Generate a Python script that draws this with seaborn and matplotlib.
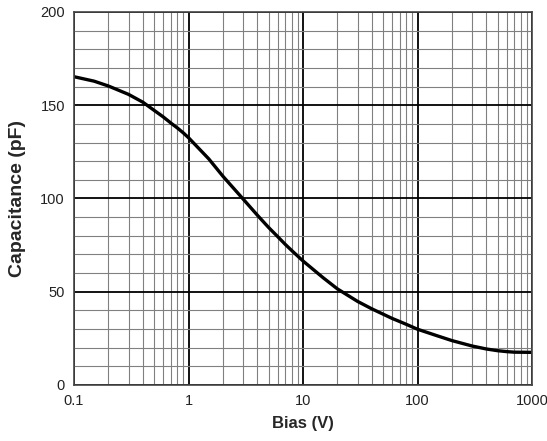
import numpy as np
import pandas as pd
import seaborn as sns
import matplotlib.pyplot as plt
from matplotlib.ticker import FixedLocator, LogLocator, NullFormatter

# valeurs
bias = [0.1, 0.15, 0.2, 0.3, 0.4, 0.5, 0.6, 0.7, 0.8, 0.9, 1, 1.5, 2, 3, 4, 5, 6, 7, 8, 9, 10,
        15, 20, 30, 40, 50, 60, 70, 80, 100, 150, 200, 300, 400, 500, 600, 700, 1000]
cap = [165.3, 162.9, 160.3, 155.8, 151.6, 147.3, 143.8, 140.5, 137.8, 135.2, 132.6, 121.3, 111.9,
       99.7, 91, 84.5, 79.6, 75.4, 72, 69.1, 66.5,
       57.5, 51.5, 44.8, 40.8, 38, 35.7, 34, 32.5, 29.9, 26.3, 23.8, 20.9, 19.3, 18.4, 17.9, 17.6, 17.5]
yticks = [0, 50, 100, 150, 200]
xticks = [0.1, 1, 10, 100, 1000]
xlabels = ["0.1", "1", "10", "100", "1000"]

df = pd.DataFrame({"Bias (V)": bias, "Capacitance (pF)": cap})

sns.set_style("white")
plt.rcParams['font.family'] = ['Liberation Sans', 'DejaVu Sans']

fig = plt.figure(figsize=(5.47, 4.41), dpi=100)
ax = fig.add_axes([0.1353, 0.127, 0.8373, 0.8458])

ax.set_xscale("log")
ax.set_xlim(0.1, 1000)
ax.set_ylim(0, 200)

ax.xaxis.set_major_locator(FixedLocator(xticks))
ax.xaxis.set_minor_locator(LogLocator(base=10, subs=np.arange(2, 10)))
ax.xaxis.set_minor_formatter(NullFormatter())
ax.set_xticks(xticks)
ax.set_xticklabels(xlabels)
ax.yaxis.set_major_locator(FixedLocator(yticks))
ax.yaxis.set_minor_locator(FixedLocator(np.arange(0, 201, 10)))

ax.grid(which="major", color="black", linewidth=1.3)
ax.grid(which="minor", color="#808080", linewidth=0.8)
ax.set_axisbelow(True)

sns.lineplot(data=df, x="Bias (V)", y="Capacitance (pF)", color="black", linewidth=2.4, ax=ax)

for s in ax.spines.values():
    s.set_color("#444444")
    s.set_linewidth(1.2)

ax.tick_params(which="both", direction="out", length=3, color="#666666", labelsize=10.5, colors="#222222")
ax.tick_params(which="minor", length=3)

ax.set_xlabel("Bias (V)", fontsize=12, fontweight="bold", labelpad=6)
ax.set_ylabel("Capacitance (pF)", fontsize=14, fontweight="bold", labelpad=10)

fig.savefig("out.png", dpi=100)
